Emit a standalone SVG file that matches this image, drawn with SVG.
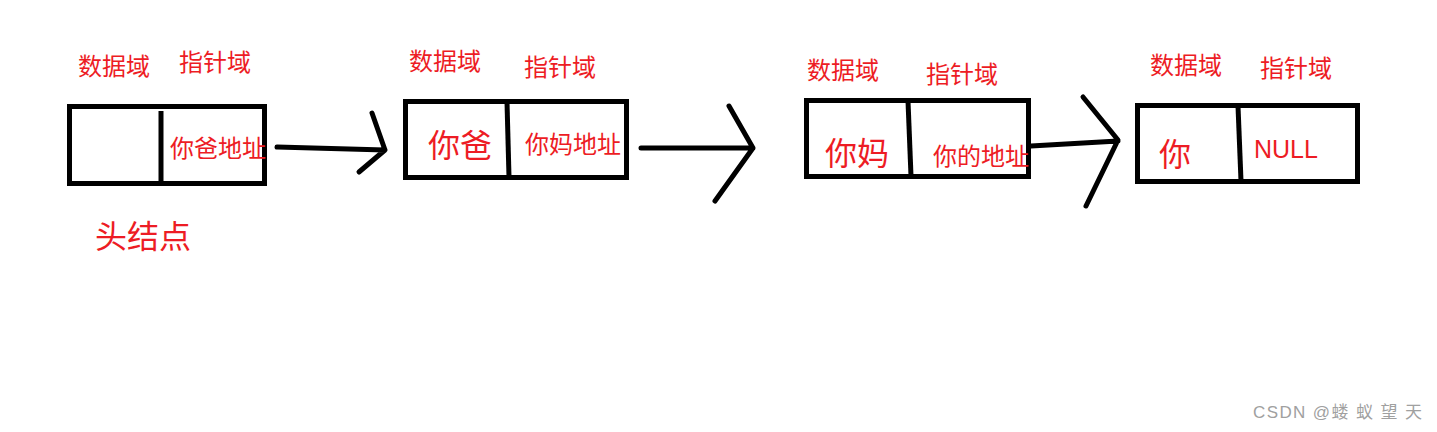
<svg xmlns="http://www.w3.org/2000/svg" width="1437" height="432" viewBox="0 0 1437 432">
<style>
.box{fill:none;stroke:#000;stroke-width:5}
.div{stroke:#000;stroke-width:5;stroke-linecap:butt}
.t{fill:#ed1c24;font-family:"Noto Sans CJK SC","Liberation Sans",sans-serif;font-size:24px}
.big{font-size:32px}
.en{font-family:"Liberation Sans","Noto Sans CJK SC",sans-serif;font-size:25px}
.arr{fill:none;stroke:#000;stroke-width:5;stroke-linecap:round;stroke-linejoin:round}
.wm{fill:#a0a0a0;font-family:"Liberation Sans","Noto Sans CJK SC",sans-serif;font-size:17px}
</style>
<rect width="1437" height="432" fill="#fff"/>
<g id="node1">
<rect class="box" x="69.5" y="106.5" width="195" height="77"/>
<line class="div" x1="161" y1="111" x2="161" y2="186"/>
<text class="t" x="78" y="75">数据域</text>
<text class="t" x="179" y="71">指针域</text>
<text class="t" x="170" y="157">你爸地址</text>
<text class="t big" x="95" y="248">头结点</text>
</g>
<g id="node2">
<rect class="box" x="405.5" y="101.5" width="221" height="76"/>
<line class="div" x1="507" y1="102" x2="509" y2="177"/>
<text class="t" x="409" y="70">数据域</text>
<text class="t" x="524" y="76">指针域</text>
<text class="t big" x="428" y="157">你爸</text>
<text class="t" x="525" y="153">你妈地址</text>
</g>
<g id="node3">
<rect class="box" x="806.5" y="100.5" width="222" height="76"/>
<line class="div" x1="908" y1="101" x2="911" y2="176"/>
<text class="t" x="807" y="79">数据域</text>
<text class="t" x="926" y="83">指针域</text>
<text class="t big" x="825" y="165">你妈</text>
<text class="t" x="933" y="165">你的地址</text>
</g>
<g id="node4">
<rect class="box" x="1137.5" y="105.5" width="220" height="76"/>
<line class="div" x1="1238" y1="106" x2="1241" y2="181"/>
<text class="t" x="1150" y="74">数据域</text>
<text class="t" x="1260" y="77">指针域</text>
<text class="t big" x="1159" y="166">你</text>
<text class="t en" x="1254" y="158">NULL</text>
</g>
<g id="connectors">
<path class="arr" d="M277 147 L385 150 M372 113 L385 150 L359 172"/>
<path class="arr" d="M641 148 L753 148 M729 106 L753 148 L715 201"/>
<path class="arr" d="M1031 146 L1118 141 M1083 97 L1118 140 L1086 206"/>
</g>
<text class="wm" x="1253" y="418" textLength="169" lengthAdjust="spacing">CSDN @蝼 蚁 望 天</text>
</svg>
